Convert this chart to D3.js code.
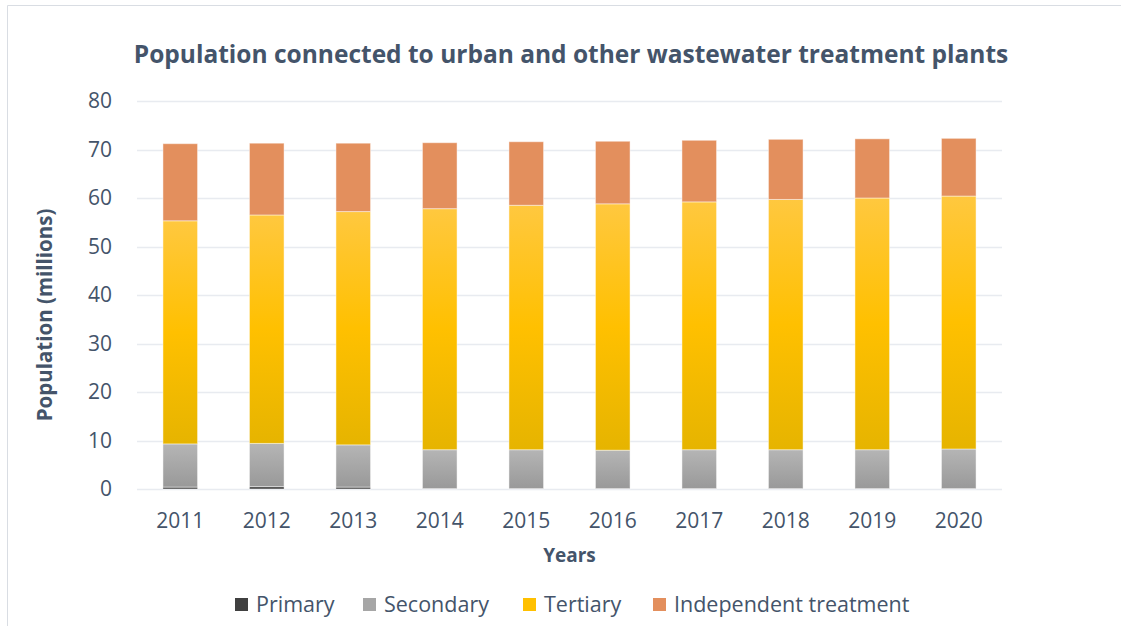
<!DOCTYPE html>
<html>
<head>
<meta charset="utf-8">
<script src="https://cdn.jsdelivr.net/npm/d3@7"></script>
<style>
  body { margin: 0; background: #fff; }
  svg text { font-family: "Open Sans", "Noto Sans", sans-serif; fill: #44546a; }
</style>
</head>
<body>
<svg id="chart" width="1124" height="626"></svg>
<script>
// values (millions)
const years = ['2011', '2012', '2013', '2014', '2015', '2016', '2017', '2018', '2019', '2020']
const primary = [0.4, 0.5, 0.4, 0.1, 0.1, 0.1, 0.1, 0.1, 0.1, 0.1]
const secondary = [8.9, 8.9, 8.7, 8.0, 8.0, 7.9, 8.0, 8.0, 8.0, 8.15]
const tertiary = [46.0, 47.1, 48.1, 49.7, 50.4, 50.8, 51.1, 51.6, 51.9, 52.15]
const independent = [15.9, 14.8, 14.1, 13.6, 13.1, 12.9, 12.7, 12.4, 12.2, 11.9]
const yTicks = [0, 10, 20, 30, 40, 50, 60, 70, 80]
const seriesNames = ['Primary', 'Secondary', 'Tertiary', 'Independent treatment']

const svg = d3.select('#chart')

// outer frame (top + left edges visible)
svg.append('path')
   .attr('d', 'M7.5,626 V5.5 H1121')
   .attr('fill', 'none')
   .attr('stroke', '#d9dde3')

const margin = {top: 101, left: 137, right: 122, bottom: 137}
const width = 1124 - margin.left - margin.right
const height = 626 - margin.top - margin.bottom

const defs = svg.append('defs')
function grad(id, stops) {
    let g = defs.append('linearGradient').attr('id', id)
        .attr('x1', 0).attr('y1', 0).attr('x2', 0).attr('y2', 1)
    stops.forEach(s => g.append('stop').attr('offset', s[0]).attr('stop-color', s[1]))
}
grad('gPrim', [[0, '#5a5a5a'], [1, '#3a3a3a']])
grad('gSec', [[0, '#b5b5b5'], [1, '#999999']])
grad('gTer', [[0, '#ffc83f'], [0.5, '#ffc000'], [1, '#e6b400']])

const colors = ['url(#gPrim)', 'url(#gSec)', 'url(#gTer)', '#e38f5d']
const legendColors = ['#404040', '#a6a6a6', '#ffc000', '#e38f5d']

const g = svg.append('g').attr('transform', 'translate(' + margin.left + ',' + margin.top + ')')

const x = d3.scaleBand().domain(years).range([0, width]).paddingInner(0.6).paddingOuter(0.3)
const y = d3.scaleLinear().domain([0, 80]).range([height, 0])

// gridlines
g.append('g')
 .selectAll('line')
 .data(yTicks)
 .join('line')
 .attr('x1', 0).attr('x2', width)
 .attr('y1', d => Math.round(y(d)) + 0.5).attr('y2', d => Math.round(y(d)) + 0.5)
 .attr('stroke', '#e8ebf0').attr('stroke-width', 1.5)

// y axis labels
const yAxis = g.append('g').call(d3.axisLeft(y).tickValues(yTicks).tickSize(0).tickPadding(25))
yAxis.select('.domain').remove()
yAxis.selectAll('text').style('font-size', '21px').style('fill', '#44546a')

// x axis labels
const xAxis = g.append('g').attr('transform', 'translate(0,' + height + ')')
 .call(d3.axisBottom(x).tickSize(0).tickPadding(24))
xAxis.select('.domain').remove()
xAxis.selectAll('text').style('font-size', '21px').style('fill', '#44546a')

// stacked bars
const rows = years.map((yr, i) => ({
    year: yr, Primary: primary[i], Secondary: secondary[i],
    Tertiary: tertiary[i], 'Independent treatment': independent[i]
}))
const stack = d3.stack().keys(seriesNames)(rows)

g.selectAll('g.series')
 .data(stack)
 .join('g')
 .attr('class', 'series')
 .attr('fill', (d, i) => colors[i])
 .selectAll('rect')
 .data(d => d)
 .join('rect')
 .attr('x', d => x(d.data.year))
 .attr('width', x.bandwidth())
 .attr('y', d => y(d[1]))
 .attr('height', d => y(d[0]) - y(d[1]))
 .attr('stroke', 'rgba(255,255,255,0.45)')
 .attr('stroke-width', 1)

// title
svg.append('text')
   .attr('x', 571).attr('y', 63)
   .attr('text-anchor', 'middle')
   .style('font-size', '24.5px').style('font-weight', 'bold')
   .text('Population connected to urban and other wastewater treatment plants')

// axis titles
svg.append('text')
   .attr('transform', 'translate(52,315) rotate(-90)')
   .attr('text-anchor', 'middle')
   .style('font-size', '20.5px').style('font-weight', 'bold')
   .text('Population (millions)')

svg.append('text')
   .attr('x', margin.left + width / 2).attr('y', 562)
   .attr('text-anchor', 'middle')
   .style('font-size', '19px').style('font-weight', 'bold')
   .text('Years')

// legend
const legendX = [235, 363, 523, 653]
const leg = svg.append('g')
const item = leg.selectAll('g')
 .data(seriesNames)
 .join('g')
 .attr('transform', (d, i) => 'translate(' + legendX[i] + ',604)')
item.append('rect')
 .attr('x', 0).attr('y', -6).attr('width', 13).attr('height', 13)
 .attr('fill', (d, i) => legendColors[i])
item.append('text')
 .attr('x', 21).attr('y', 0).attr('dy', '0.35em')
 .style('font-size', '21.5px')
 .text(d => d)
</script>
</body>
</html>
